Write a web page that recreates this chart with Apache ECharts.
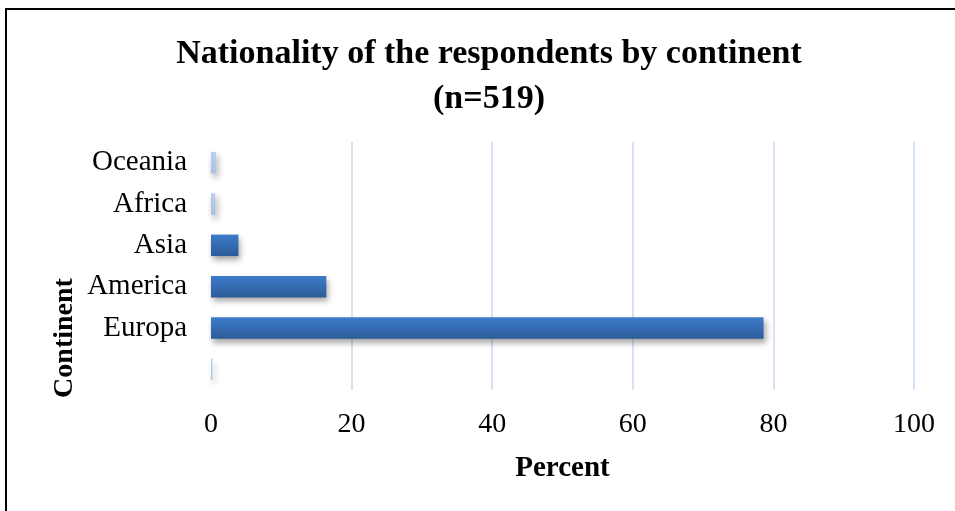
<!DOCTYPE html>
<html>
<head>
<meta charset="utf-8">
<script src="https://cdn.jsdelivr.net/npm/echarts@6/dist/echarts.min.js"></script>
<style>
html,body{margin:0;padding:0;background:#fff;}
#chart{width:955px;height:511px;}
</style>
</head>
<body>
<div id="chart"></div>
<script>
var categories = ['', 'Europa', 'America', 'Asia', 'Africa', 'Oceania'];
var percentValues = [0.2, 78.6, 16.4, 3.9, 0.6, 0.7];
var xTicks = [0, 20, 40, 60, 80, 100];

var chart = echarts.init(document.getElementById('chart'));
var serif = '"Liberation Serif", "Times New Roman", serif';
var barGradient = new echarts.graphic.LinearGradient(0, 0, 0, 1, [
  {offset: 0, color: '#3d7ccb'},
  {offset: 1, color: '#2c5b98'}
]);
var lightGradient = new echarts.graphic.LinearGradient(0, 0, 0, 1, [
  {offset: 0, color: '#b9d0ec'},
  {offset: 1, color: '#a9c2e2'}
]);

chart.setOption({
  animation: false,
  title: {
    text: 'Nationality of the respondents by continent\n(n=519)',
    left: 484,
    textAlign: 'center',
    top: 27,
    textStyle: {fontFamily: serif, fontWeight: 'bold', fontSize: 34, lineHeight: 45, color: '#000'}
  },
  grid: {left: 211, right: 41, top: 142, bottom: 121},
  xAxis: {
    type: 'value',
    min: xTicks[0],
    max: xTicks[xTicks.length - 1],
    interval: 20,
    name: 'Percent',
    nameLocation: 'middle',
    nameGap: 64,
    nameTextStyle: {fontFamily: serif, fontWeight: 'bold', fontSize: 29, color: '#000'},
    axisLine: {show: false},
    axisTick: {show: false},
    axisLabel: {margin: 21, fontFamily: serif, fontSize: 28, color: '#000'},
    splitLine: {show: true, showMinLine: false, lineStyle: {color: '#d6e3f5', width: 2}}
  },
  yAxis: {
    type: 'category',
    data: categories,
    axisLine: {show: false},
    axisTick: {show: false},
    axisLabel: {margin: 24, fontFamily: serif, fontSize: 29, color: '#000', padding: [4, 0, 0, 0]}
  },
  series: [{
    type: 'bar',
    barCategoryGap: '48%',
    data: percentValues.map(function (v, i) {
      return {value: v, itemStyle: {color: v < 1 ? lightGradient : barGradient}};
    }),
    itemStyle: {
      shadowColor: 'rgba(0,0,0,0.35)',
      shadowBlur: 6,
      shadowOffsetX: 2,
      shadowOffsetY: 4
    }
  }],
  graphic: [
    {type: 'line', shape: {x1: 5, y1: 9, x2: 955, y2: 9}, style: {stroke: '#000', lineWidth: 2}},
    {type: 'line', shape: {x1: 6, y1: 8, x2: 6, y2: 511}, style: {stroke: '#000', lineWidth: 2}},
    {type: 'text', x: 65, y: 338, rotation: Math.PI / 2,
     style: {text: 'Continent', fontFamily: serif, fontWeight: 'bold', fontSize: 28, fill: '#000',
             textAlign: 'center', textVerticalAlign: 'middle'}}
  ]
});
</script>
</body>
</html>
